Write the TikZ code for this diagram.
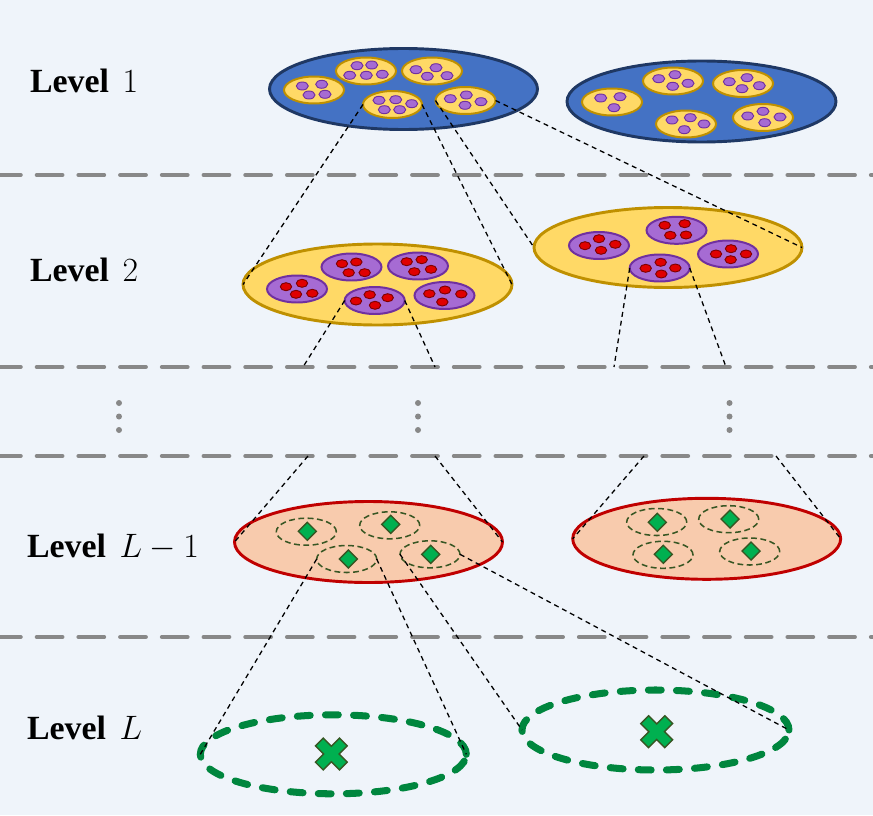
\RequirePackage{fix-cm}
\documentclass[tikz,border=0pt]{standalone}
\usepackage[no-math]{fontspec}
\setmainfont{Liberation Serif}
\usetikzlibrary{shapes.geometric}
\newdimen\pxu \pxu=0.03cm
\definecolor{bgc}{RGB}{239,244,250}
\definecolor{blfill}{RGB}{68,114,196}
\definecolor{bldraw}{RGB}{31,56,100}
\definecolor{yfill}{RGB}{255,217,102}
\definecolor{ydraw}{RGB}{191,144,0}
\definecolor{pfill}{RGB}{166,107,211}
\definecolor{pdraw}{RGB}{112,48,160}
\definecolor{rfill}{RGB}{224,0,0}
\definecolor{rdraw}{RGB}{128,0,0}
\definecolor{pkfill}{RGB}{248,203,173}
\definecolor{pkdraw}{RGB}{192,0,0}
\definecolor{gfill}{RGB}{0,176,80}
\definecolor{gdraw}{RGB}{55,86,35}
\definecolor{gbig}{RGB}{0,134,62}
\definecolor{grayc}{RGB}{136,136,136}
\begin{document}
\begin{tikzpicture}[x=0.03cm,y=-0.03cm,
  every node/.style={inner sep=0pt,outer sep=0pt},
  bigell/.style={ellipse,minimum width=268\pxu,minimum height=81\pxu,line width=2.5pt},
  smell/.style={ellipse,minimum width=60\pxu,minimum height=27\pxu,line width=1.7pt},
  lvlone/.style={bigell,fill=blfill,draw=bldraw},
  lvltwo/.style={bigell,fill=yfill,draw=ydraw},
  lvlpre/.style={bigell,fill=pkfill,draw=pkdraw},
  yel/.style={smell,fill=yfill,draw=ydraw},
  pur/.style={smell,fill=pfill,draw=pdraw},
  gsm/.style={smell,draw=gdraw,line width=1.3pt,dash pattern=on 5pt off 3pt},
  gbigell/.style={ellipse,draw=gbig,line width=6pt,line cap=round,dash pattern=on 11pt off 13pt},
  pdot/.style={fill=pfill,draw=pdraw,line width=0.8pt},
  rdot/.style={fill=rfill,draw=rdraw,line width=0.8pt},
  divider/.style={draw=grayc,line width=3.4pt,line cap=round,dash pattern=on 22pt off 13.6pt},
  link/.style={draw=black,line width=1.1pt,dash pattern=on 4.2pt off 3.4pt},
  lab/.style={anchor=base west,font=\fontsize{28.9pt}{34pt}\selectfont},
  dia/.style={fill=gfill,draw=gdraw,line width=1.2pt,line join=miter},
  vdot/.style={fill=grayc}
]
\useasboundingbox (0,0) rectangle (873,815);
\fill[bgc] (0,0) rectangle (873,815);

% dividers
\foreach \yy in {175,367,456,637} \draw[divider] (-5,\yy) -- (880,\yy);

% labels
\node[lab] (lab1) at (30,92) {\textbf{Level}\hspace{0.4em}$1$};
\node[lab] (lab2) at (30,281) {\textbf{Level}\hspace{0.4em}$2$};
\node[lab] (lab3) at (27,557) {\textbf{Level}\hspace{0.4em}$L-1$};
\node[lab] (lab4) at (27,739) {\textbf{Level}\hspace{0.4em}$L$};

% level 1
\node[lvlone] (b1) at (403.5,89) {};
\node[lvlone,minimum width=269\pxu] (b2) at (701.5,101.5) {};
\node[yel] (yA) at (314,90) {};
\node[yel] (yB) at (366,71) {};
\node[yel] (yC) at (432,71) {};
\node[yel,minimum width=59\pxu] (yD) at (392.5,104.5) {};
\node[yel] (yE) at (465.5,100.5) {};
\node[yel] (yF) at (612,102) {};
\node[yel] (yG) at (673,81) {};
\node[yel] (yH) at (743,83.5) {};
\node[yel] (yI) at (686,124) {};
\node[yel] (yJ) at (763,117.5) {};
\foreach \p in {(302.3,86),(321.7,84.3),(309,95),(325,94.3),
  (357,65.7),(371.7,65),(349.7,75.3),(366.3,75.3),(382.3,74.3),
  (416,69.7),(436,67.7),(427.3,76.3),(447,75.7),
  (379,100.3),(395.7,99.7),(411.7,103.7),(384.3,109.7),(399.7,109.7),
  (450.3,98.7),(466.3,95),(481,101.7),(465,105.3),
  (600.7,98),(620,96.7),(614,107.7),
  (658.7,78.7),(675,74.7),(672.7,86.3),(688,83.3),
  (729.3,81.7),(747,77.7),(742,88.7),(759.3,85.7),
  (672,120),(690.3,117.7),(704,124),(684.3,129.7),
  (747.7,116),(763,111.3),(780,117),(764.7,122.7)}
  \filldraw[pdot] \p ellipse [x radius=6, y radius=4];

% level 2
\node[lvltwo,minimum width=269\pxu] (L2a) at (377.5,284.5) {};
\node[lvltwo,minimum height=80\pxu] (L2b) at (668,247.5) {};
\node[pur] (P1) at (297,289) {};
\node[pur] (P2) at (351.5,267) {};
\node[pur] (P3) at (418,266) {};
\node[pur] (P4) at (374.7,300.5) {};
\node[pur] (P5) at (444.5,295.5) {};
\node[pur] (Q1) at (599,245.5) {};
\node[pur] (Q2) at (676.5,230.3) {};
\node[pur] (Q3) at (728,254) {};
\node[pur] (Q4) at (659.7,268) {};
\foreach \p in {(286,286.7),(302,283.3),(296,294.3),(312.3,293.3),
  (342,263.7),(356.3,262),(348.7,272.7),(364.7,272.7),
  (406.7,261.7),(421.7,259.7),(414.3,271.7),(431,269.3),
  (356,301),(369.7,294.7),(387.7,297.7),(375,305.3),
  (429.3,293.7),(445,290),(461.3,294),(442.3,302),
  (585,245.7),(599,238.7),(615.3,244.3),(601,250.3),
  (664.7,225.3),(684.7,223.7),(670.3,235.3),(686,235),
  (716,254),(731,248.7),(746,254),(730.7,259.7),
  (645.7,268.3),(660.7,262.3),(675.3,268),(661.3,274)}
  \filldraw[rdot] \p ellipse [x radius=5.7, y radius=4];

% vertical dots
\foreach \xx in {119,418,729.5}
  \foreach \yy in {403,416.5,430}
    \fill[vdot] (\xx,\yy) circle [radius=3];

% level L-1
\node[lvlpre] (La) at (368.5,542) {};
\node[lvlpre] (Lb) at (706.7,538.8) {};
\node[gsm] (R1) at (306.3,531.7) {};
\node[gsm] (R2) at (389.7,525.3) {};
\node[gsm] (R3) at (346.7,559) {};
\node[gsm] (R4) at (430,554.3) {};
\node[gsm] (S1) at (656.7,522) {};
\node[gsm] (S2) at (728.7,519.2) {};
\node[gsm] (S3) at (663,554.8) {};
\node[gsm] (S4) at (749.7,551.5) {};
\foreach \p in {(307.3,531.3),(390.7,524.3),(348.3,559),(430.7,554.3),
  (657.3,522.3),(730,519),(663.3,554.3),(751,551)}
  \draw[dia] \p ++(-9,0) -- ++(9,-9) -- ++(9,9) -- ++(-9,9) -- cycle;

% level L
\node[gbigell,minimum width=266\pxu,minimum height=79\pxu] (T1) at (333.3,754.3) {};
\node[gbigell,minimum width=267\pxu,minimum height=80\pxu] (T2) at (655.5,730) {};
\foreach \p in {(331.3,754),(656.7,731.7)}
  \draw[dia,shift={\p},rotate=45] (5.5,17) -- (5.5,5.5) -- (17,5.5) -- (17,-5.5) -- (5.5,-5.5) -- (5.5,-17)
     -- (-5.5,-17) -- (-5.5,-5.5) -- (-17,-5.5) -- (-17,5.5) -- (-5.5,5.5) -- (-5.5,17) -- cycle;

% connector coordinates
\coordinate (c1) at (303,367);
\coordinate (c2) at (435,367);
\coordinate (c3) at (614,367);
\coordinate (c4) at (726,367);
\coordinate (d1) at (308,456);
\coordinate (d2) at (435,456);
\coordinate (d3) at (644,456);
\coordinate (d4) at (776,456);

% connectors
\draw[link] (yD.west) -- (L2a.west);
\draw[link] (yD.east) -- (L2a.east);
\draw[link] (yE.west) -- (L2b.west);
\draw[link] (yE.east) -- (L2b.east);
\draw[link] (P4.west) -- (c1);
\draw[link] (P4.east) -- (c2);
\draw[link] (Q4.west) -- (c3);
\draw[link] (Q4.east) -- (c4);
\draw[link] (d1) -- (La.west);
\draw[link] (d2) -- (La.east);
\draw[link] (d3) -- (Lb.west);
\draw[link] (d4) -- (Lb.east);
\draw[link] (R3.west) -- (T1.west);
\draw[link] (R3.east) -- (T1.east);
\draw[link] (R4.west) -- (T2.west);
\draw[link] (R4.east) -- (T2.east);
\end{tikzpicture}
\end{document}
